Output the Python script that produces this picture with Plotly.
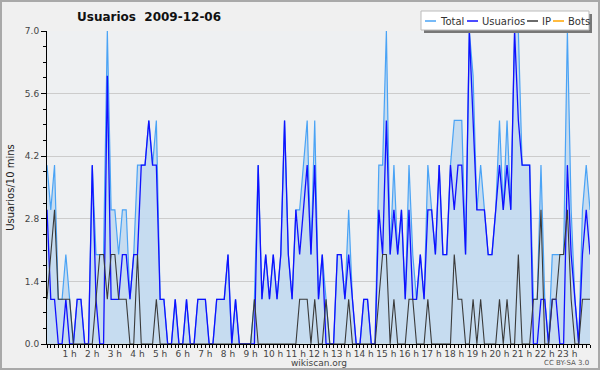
import plotly.graph_objects as go

# ---- data (10-minute slots, 00:00 .. 24:00) ----
total = [4,3,4,1,1,2,1,0,1,1,0,0,4,2,2,2,7,3,3,2,3,3,1,2,4,4,4,5,4,5,
         1,1,0,0,1,0,0,1,0,0,1,1,1,0,0,1,1,1,2,0,1,0,0,0,0,1,4,1,2,1,
         2,1,2,5,2,1,3,3,4,5,2,5,1,2,1,0,0,2,2,1,3,1,0,0,1,1,0,0,4,4,
         7,2,4,2,3,1,4,2,1,2,1,4,3,2,4,2,2,4,5,5,5,2,7,6,3,4,3,2,2,3,
         5,3,5,3,7,7,4,4,4,1,1,4,1,0,2,2,2,2,7,3,1,0,3,4,3]
usuarios = [3,1,1,0,0,1,0,0,1,1,0,0,4,1,0,0,6,1,1,1,2,2,1,2,2,4,4,5,4,4,
            1,1,0,0,1,0,0,1,0,0,1,1,1,0,0,1,1,1,2,0,1,0,0,0,0,0,4,1,2,1,
            2,1,2,5,2,1,3,2,3,4,2,4,1,2,0,0,0,2,2,1,2,1,0,0,1,1,0,0,3,2,
            5,2,3,2,3,1,3,1,1,2,1,3,3,2,4,2,2,4,3,4,4,2,7,5,3,3,3,2,2,3,
            4,3,4,3,7,5,4,4,4,0,0,1,1,0,1,1,0,0,4,2,1,0,2,3,2]
ip = [1,2,3,1,1,1,1,0,0,0,0,0,0,1,2,2,1,2,2,1,1,1,0,0,2,0,0,0,0,1,
      0,0,0,0,0,0,0,0,0,0,0,0,0,0,0,0,0,0,0,0,0,0,0,0,0,1,0,0,0,0,
      0,0,0,0,0,0,0,1,1,1,0,1,0,0,1,0,0,0,0,0,1,0,0,0,0,0,0,0,1,2,
      2,0,1,0,0,0,1,1,0,0,0,1,0,0,0,0,0,0,2,1,1,0,0,1,0,1,0,0,0,0,
      1,0,1,0,0,2,0,0,0,1,1,3,0,0,1,1,2,2,3,1,0,0,1,1,1]
bots = [0] * len(total)
slots = list(range(len(total)))

hour_ticks = list(range(6, 144, 6))
hour_labels = [f"{h} h" for h in range(1, 24)]
y_ticks = [0.0, 1.4, 2.8, 4.2, 5.6, 7.0]
y_labels = ["0.0", "1.4", "2.8", "4.2", "5.6", "7.0"]

legend_names = ["Total", "Usuarios", "IP", "Bots"]
colors = {"Total": "#4aa3f5", "Usuarios": "#1010ff", "IP": "#3a3a3a", "Bots": "#ffa500"}

# ---- geometry (pixels) ----
L, R, T, B = 47, 590, 31, 344
W, H = 600, 370


def px(p):
    return (p - L) / (R - L)


def py(p):
    return (B - p) / (B - T)


FONT = "DejaVu Sans"

fig = go.Figure()
fig.add_trace(go.Scatter(x=slots, y=bots, mode="lines", name="Bots",
                         line=dict(color=colors["Bots"], width=1)))
fig.add_trace(go.Scatter(x=slots, y=total, mode="lines", name="Total",
                         fill="tozeroy", fillcolor="rgba(190,216,240,0.85)",
                         line=dict(color=colors["Total"], width=1.2)))
fig.add_trace(go.Scatter(x=slots, y=usuarios, mode="lines", name="Usuarios",
                         line=dict(color=colors["Usuarios"], width=1.3)))
fig.add_trace(go.Scatter(x=slots, y=ip, mode="lines", name="IP",
                         line=dict(color=colors["IP"], width=1.1)))

fig.update_layout(
    width=W, height=H,
    margin=dict(l=L, r=W - R, t=T, b=H - B, pad=0, autoexpand=False),
    paper_bgcolor="#f0f0f0",
    plot_bgcolor="#eef0f2",
    showlegend=False,
    font=dict(family=FONT, size=10, color="#333333"),
)
fig.update_xaxes(
    range=[0, 144], showgrid=False, zeroline=False,
    showline=True, linecolor="#000000", linewidth=1,
    tickmode="array", tickvals=hour_ticks, ticktext=hour_labels,
    ticks="outside", ticklen=3, tickcolor="#000000", tickangle=0,
    ticklabelstandoff=-2,
    tickfont=dict(family=FONT, size=9, color="#444444"),
    minor=dict(dtick=1, tick0=0, ticks="outside", ticklen=3, tickcolor="#000000"),
    fixedrange=True, automargin=False,
)
fig.update_yaxes(
    range=[0, 7.0], showgrid=True, gridcolor="#cccccc", gridwidth=1,
    zeroline=False, showline=True, linecolor="#000000", linewidth=1,
    tickmode="array", tickvals=y_ticks, ticktext=y_labels,
    ticks="outside", ticklen=5, tickcolor="#000000",
    tickfont=dict(family=FONT, size=9, color="#444444"),
    minor=dict(dtick=0.35, tick0=0, ticks="outside", ticklen=3,
               tickcolor="#000000", showgrid=False),
    title=dict(text="Usuarios/10 mins", font=dict(family=FONT, size=10, color="#222222"),
               standoff=8),
    fixedrange=True, automargin=False,
)

shapes = []
# outer frame
shapes.append(dict(type="rect", xref="paper", yref="paper", layer="above",
                   x0=px(1), x1=px(W - 1), y0=py(H - 1), y1=py(1),
                   line=dict(color="#a9a9a9", width=2), fillcolor="rgba(0,0,0,0)"))
# legend box with shadow
shapes.append(dict(type="rect", xref="paper", yref="paper", layer="above",
                   x0=px(424), x1=px(592), y0=py(33), y1=py(14),
                   line=dict(width=0), fillcolor="#777777"))
shapes.append(dict(type="rect", xref="paper", yref="paper", layer="above",
                   x0=px(421), x1=px(589), y0=py(30), y1=py(11),
                   line=dict(color="#bbbbbb", width=1), fillcolor="#ffffff"))
annotations = []
legend_x = [425, 467, 527, 553]
for name, lx in zip(legend_names, legend_x):
    shapes.append(dict(type="line", xref="paper", yref="paper", layer="above",
                       x0=px(lx), x1=px(lx + 11), y0=py(21), y1=py(21),
                       line=dict(color=colors[name], width=1.5)))
    annotations.append(dict(text=name, xref="paper", yref="paper",
                            x=px(lx + 13), y=py(21), xanchor="left", yanchor="middle",
                            showarrow=False, font=dict(family=FONT, size=10, color="#333333")))

annotations.append(dict(text="<b>Usuarios\u00a0\u00a02009-12-06</b>", xref="paper", yref="paper",
                        x=px(75), y=py(17), xanchor="left", yanchor="middle",
                        showarrow=False, font=dict(family=FONT, size=12, color="#111111")))
annotations.append(dict(text="wikiscan.org", xref="paper", yref="paper",
                        x=0.5, y=py(363), xanchor="center", yanchor="middle",
                        showarrow=False, font=dict(family=FONT, size=9, color="#444444")))
annotations.append(dict(text="CC BY-SA 3.0", xref="paper", yref="paper",
                        x=px(591), y=py(363), xanchor="right", yanchor="middle",
                        showarrow=False, font=dict(family=FONT, size=7, color="#555555")))

fig.update_layout(shapes=shapes, annotations=annotations)
fig.write_html("out.html", config={"displayModeBar": False},
               post_script="document.body.style.margin='0';")
